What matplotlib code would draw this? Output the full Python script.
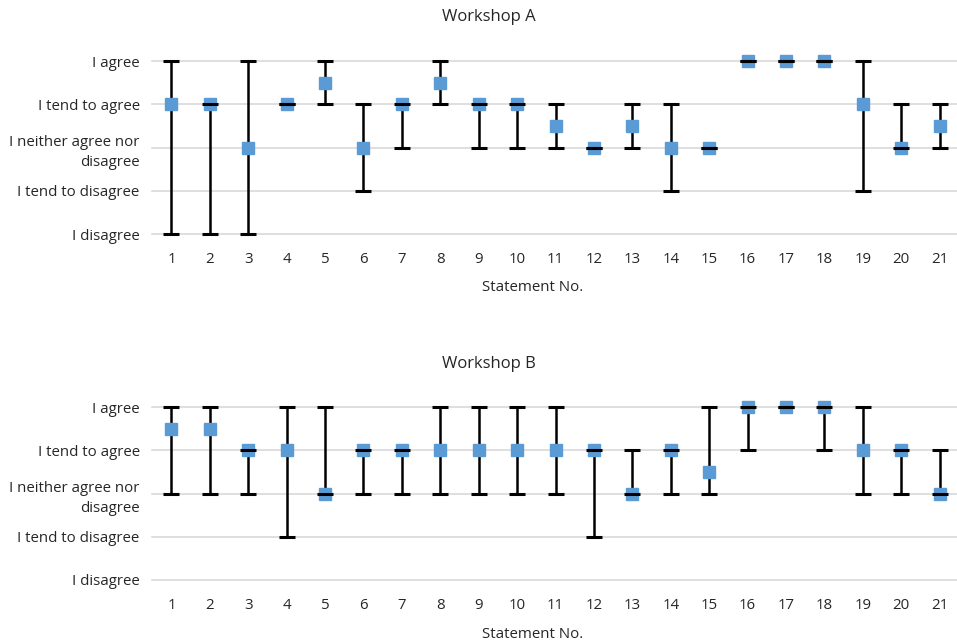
import numpy as np
import matplotlib as mpl
mpl.use('Agg')
from matplotlib import pyplot as plt

plt.rcParams['font.family'] = ['Open Sans', 'DejaVu Sans']

# Data: 1 = I disagree ... 5 = I agree
statements = np.arange(1, 22)
levels = ['I disagree', 'I tend to disagree', 'I neither agree nor\ndisagree',
          'I tend to agree', 'I agree']

med_a = [4, 4, 3, 4, 4.5, 3, 4, 4.5, 4, 4, 3.5, 3, 3.5, 3, 3, 5, 5, 5, 4, 3, 3.5]
min_a = [1, 1, 1, 4, 4, 2, 3, 4, 3, 3, 3, 3, 3, 2, 3, 5, 5, 5, 2, 3, 3]
max_a = [5, 4, 5, 4, 5, 4, 4, 5, 4, 4, 4, 3, 4, 4, 3, 5, 5, 5, 5, 4, 4]

med_b = [4.5, 4.5, 4, 4, 3, 4, 4, 4, 4, 4, 4, 4, 3, 4, 3.5, 5, 5, 5, 4, 4, 3]
min_b = [3, 3, 3, 2, 3, 3, 3, 3, 3, 3, 3, 2, 3, 3, 3, 4, 5, 4, 3, 3, 3]
max_b = [5, 5, 4, 5, 5, 4, 4, 5, 5, 5, 5, 4, 4, 4, 5, 5, 5, 5, 5, 4, 4]

fig = plt.figure(figsize=(9.57, 6.43), dpi=100)

panels = [('Workshop A', med_a, min_a, max_a, 0.636, 0.973, 0.553),
          ('Workshop B', med_b, min_b, max_b, 0.098, 0.434, 0.013)]

for title, med, lo, hi, bottom, ty, ly in panels:
    ax = fig.add_axes([0.159, bottom, 0.843, 0.269])
    for v in range(1, 6):
        ax.axhline(v, color='#d9d9d9', lw=1.2, zorder=0, clip_on=False)
    ax.vlines(statements, lo, hi, color='black', lw=1.8, zorder=2)
    ax.plot(statements, med, 's', color='#5b9bd5', ms=9, zorder=3, clip_on=False)
    ax.plot(statements, lo, '_', color='black', ms=11, mew=2.2, zorder=4, clip_on=False)
    ax.plot(statements, hi, '_', color='black', ms=11, mew=2.2, zorder=4, clip_on=False)
    ax.set_xlim(0.5, 21.5)
    ax.set_ylim(1, 5)
    ax.set_xticks(statements)
    ax.set_xticklabels([str(s) for s in statements])
    ax.set_yticks(range(1, 6))
    ax.set_yticklabels(levels, ha='right', linespacing=1.5)
    ax.tick_params(length=0, labelsize=10.8, colors='#262626')
    ax.tick_params(axis='x', pad=13)
    ax.tick_params(axis='y', pad=9)
    for s in ax.spines.values():
        s.set_visible(False)
    fig.text(0.511, ty, title, ha='center', va='center', fontsize=12, color='#262626')
    fig.text(0.557, ly, 'Statement No.', ha='center', va='center', fontsize=10.8, color='#262626')

fig.savefig('out.png', dpi=100)
